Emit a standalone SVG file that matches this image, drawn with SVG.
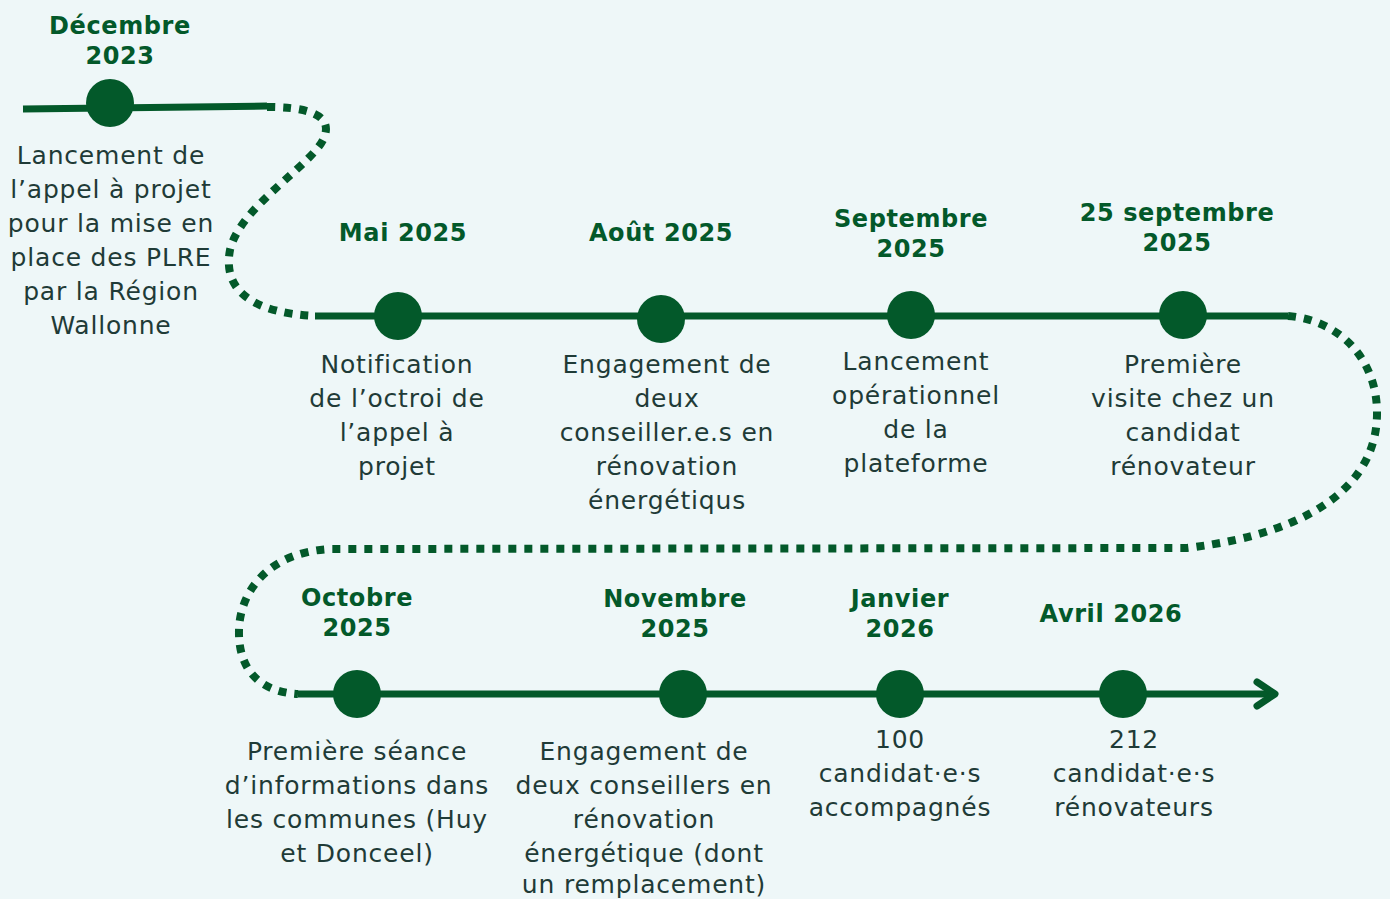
<svg xmlns="http://www.w3.org/2000/svg" width="1390" height="899" viewBox="0 0 1390 899">
<style>
.t{font-family:"DejaVu Sans","Liberation Sans",sans-serif;font-weight:bold;font-size:24px;fill:#03592A;text-anchor:middle;letter-spacing:0.6px}
.d{font-family:"DejaVu Sans","Liberation Sans",sans-serif;font-size:25px;fill:#1F3B37;text-anchor:middle;letter-spacing:0.8px}
.ln{stroke:#03592A;stroke-width:7;fill:none}
.dot{stroke:#03592A;stroke-width:8;fill:none;stroke-dasharray:8 8}
.n{fill:#03592A}
</style>
<rect width="1390" height="899" fill="#EEF7F8"/>
<g id="connectors">
<path class="ln" d="M23,109 L267,106"/>
<path class="dot" d="M267,107 C300,107 332,112 325,135 C318,162 240,205 230,250 C222,292 255,313 315,316"/>
<path class="ln" d="M315,316 L1288,316"/>
<path class="dot" d="M1288,316 C1340,320 1378,360 1377,415 C1376,480 1320,532 1187,548 L330,549 C270,552 240,590 239,630 C238,672 262,692 298,694"/>
<path class="ln" d="M298,694 L1274,694"/>
<path class="ln" d="M1257,682 L1275,694 L1257,706" stroke-linecap="round" stroke-linejoin="round"/>
</g>
<g id="n1"><circle class="n" cx="110" cy="103" r="24"/><text class="t" x="120" y="34">Décembre</text><text class="t" x="120" y="64">2023</text>
<text class="d"><tspan x="111" y="164">Lancement de</tspan><tspan x="111" y="198">l’appel à projet</tspan><tspan x="111" y="232">pour la mise en</tspan><tspan x="111" y="266">place des PLRE</tspan><tspan x="111" y="300">par la Région</tspan><tspan x="111" y="334">Wallonne</tspan></text></g>
<g id="n2"><circle class="n" cx="398" cy="316" r="24"/><text class="t" x="403" y="241">Mai 2025</text>
<text class="d"><tspan x="397" y="373">Notification</tspan><tspan x="397" y="407">de l’octroi de</tspan><tspan x="397" y="441">l’appel à</tspan><tspan x="397" y="475">projet</tspan></text></g>
<g id="n3"><circle class="n" cx="661" cy="319" r="24"/><text class="t" x="661" y="241">Août 2025</text>
<text class="d"><tspan x="667" y="373">Engagement de</tspan><tspan x="667" y="407">deux</tspan><tspan x="667" y="441">conseiller.e.s en</tspan><tspan x="667" y="475">rénovation</tspan><tspan x="667" y="509">énergétiqus</tspan></text></g>
<g id="n4"><circle class="n" cx="911" cy="315" r="24"/><text class="t" x="911" y="227">Septembre</text><text class="t" x="911" y="257">2025</text>
<text class="d"><tspan x="916" y="370">Lancement</tspan><tspan x="916" y="404">opérationnel</tspan><tspan x="916" y="438">de la</tspan><tspan x="916" y="472">plateforme</tspan></text></g>
<g id="n5"><circle class="n" cx="1183" cy="315" r="24"/><text class="t" x="1177" y="221">25 septembre</text><text class="t" x="1177" y="251">2025</text>
<text class="d"><tspan x="1183" y="373">Première</tspan><tspan x="1183" y="407">visite chez un</tspan><tspan x="1183" y="441">candidat</tspan><tspan x="1183" y="475">rénovateur</tspan></text></g>
<g id="n6"><circle class="n" cx="357" cy="694" r="24"/><text class="t" x="357" y="606">Octobre</text><text class="t" x="357" y="636">2025</text>
<text class="d"><tspan x="357" y="760">Première séance</tspan><tspan x="357" y="794">d’informations dans</tspan><tspan x="357" y="828">les communes (Huy</tspan><tspan x="357" y="862">et Donceel)</tspan></text></g>
<g id="n7"><circle class="n" cx="683" cy="694" r="24"/><text class="t" x="675" y="607">Novembre</text><text class="t" x="675" y="637">2025</text>
<text class="d"><tspan x="644" y="760">Engagement de</tspan><tspan x="644" y="794">deux conseillers en</tspan><tspan x="644" y="828">rénovation</tspan><tspan x="644" y="862">énergétique (dont</tspan><tspan x="644" y="893">un remplacement)</tspan></text></g>
<g id="n8"><circle class="n" cx="900" cy="694" r="24"/><text class="t" x="900" y="607">Janvier</text><text class="t" x="900" y="637">2026</text>
<text class="d"><tspan x="900" y="748">100</tspan><tspan x="900" y="782">candidat·e·s</tspan><tspan x="900" y="816">accompagnés</tspan></text></g>
<g id="n9"><circle class="n" cx="1123" cy="694" r="24"/><text class="t" x="1111" y="622">Avril 2026</text>
<text class="d"><tspan x="1134" y="748">212</tspan><tspan x="1134" y="782">candidat·e·s</tspan><tspan x="1134" y="816">rénovateurs</tspan></text></g>
</svg>
